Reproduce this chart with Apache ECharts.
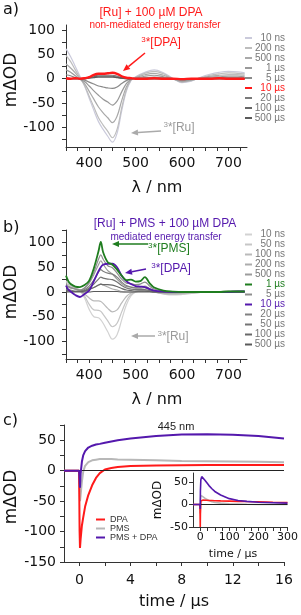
<!DOCTYPE html>
<html><head><meta charset="utf-8">
<script src="https://cdn.jsdelivr.net/npm/echarts@6/dist/echarts.min.js"></script>
<style>html,body{margin:0;padding:0;background:#fff}#c{width:301px;height:615px}</style>
</head><body><div id="c"></div>
<script>
// ---------- Panel a: [Ru] + 100 uM DPA ----------
const W_A = [350,360,370,380,390,400,410,420,430,440,450,460,470,480,490,500,520,540,560,580,600,620,640,660,680,700,720,735];
const A_10ns  = [61,45,25,5,-15,-40,-65,-88,-104,-118,-130,-112,-66,-26,-4,4,13,18,12,1,-8,-5,3,9,13,15,14,12];
const A_200ns = [48,35,18,2,-14,-36,-58,-80,-95,-108,-121,-104,-60,-23,-3,3,11,15,10,0,-7,-4,2,7,10,12,11,10];
const A_500ns = [30,22,12,0,-10,-26,-42,-58,-70,-80,-90,-77,-45,-17,-2,2,8,11,7,0,-6,-3,1,5,7,8,8,7];
const A_1us   = [18,13,6,-1,-6,-15,-25,-34,-42,-48,-54,-46,-27,-10,-1,1,5,7,4,0,-4,-2,1,3,4,5,5,4];
const A_5us   = [8,6,2,-1,-3,-7,-11,-15,-17,-19,-20,-17,-10,-4,0,1,2,3,2,0,-3,-1,0,1,2,2,2,2];
const A_10us  = [1,0,1,0,1,3,8,10,10,11,12,10,5,2,1,0,0,1,0,0,-1,0,0,0,1,0,0,0];
const A_20us  = [0,0,0,0,1,3,6,7,7,7,7,5,2,1,0,0,0,0,0,0,-1,0,0,0,0,0,0,0];
const A_100us = [0,0,0,0,0,2,4,5,5,5,5,3,1,0,0,0,0,0,0,0,-1,0,0,0,0,0,0,0];
const A_500us = [0,0,0,0,0,1,2,3,3,3,3,2,1,0,0,0,0,0,0,0,0,0,0,0,0,0,0,0];

// ---------- Panel b: [Ru] + PMS + 100 uM DPA ----------
const W_B = [350,355,360,370,380,390,400,410,420,425,430,440,450,460,470,480,490,500,510,520,530,540,560,580,600,620,640,660,680,700,720,735];
const B_10ns  = [22,20,17,10,3,-12,-35,-50,-52,-56,-63,-80,-95,-86,-56,-26,-8,0,2,3,2,0,-4,-6,-5,-3,-1,0,1,2,3,2];
const B_50ns  = [20,18,15,9,3,-8,-25,-36,-37,-39,-45,-58,-70,-63,-40,-18,-5,0,2,3,2,0,-4,-5,-4,-2,-1,0,1,2,2,2];
const B_100ns = [17,15,13,8,3,-4,-12,-18,-18,-19,-23,-33,-40,-36,-22,-9,-2,1,2,3,2,0,-3,-4,-3,-2,-1,0,1,1,2,2];
const B_200ns = [14,12,10,6,3,2,5,9,14,16,14,10,6,4,1,0,0,1,2,2,1,0,-2,-3,-2,-1,0,0,1,1,1,1];
const B_500ns = [12,10,8,6,4,8,18,35,55,63,56,43,36,26,17,11,10,9,10,12,7,3,1,0,0,0,0,0,0,1,1,1];
const B_1us   = [33,22,16,11,10,14,23,48,82,101,80,60,55,45,33,24,25,21,22,30,18,9,3,1,0,0,0,0,0,1,1,1];
const B_5us   = [13,11,9,6,4,8,20,40,66,75,66,53,49,38,26,18,17,15,16,20,12,6,2,0,0,0,0,0,0,1,1,1];
const B_10us  = [13,5,1,-6,-10,-4,3,22,42,50,55,57,57,50,33,22,16,12,11,10,6,3,1,0,0,0,0,0,0,0,1,1];
const B_20us  = [6,5,4,2,2,5,12,24,40,45,42,38,36,30,20,13,10,8,8,9,5,2,1,0,0,0,0,0,0,0,0,0];
const B_50us  = [4,3,2,1,1,3,8,16,26,30,28,26,25,20,13,8,6,5,5,5,3,1,0,0,0,0,0,0,0,0,0,0];
const B_100us = [2,2,1,1,1,2,5,9,14,16,15,15,14,11,7,4,3,2,2,2,1,0,0,0,0,0,0,0,0,0,0,0];
const B_500us = [0,0,0,0,0,0,0,1,1,1,1,1,1,1,0,0,0,0,0,0,0,0,0,0,0,0,0,0,0,0,0,0];

// ---------- Panel c: kinetics at 445 nm ----------
const T_C      = [-1.2,-0.5,-0.02,0.02,0.05,0.1,0.2,0.3,0.45,0.7,1.0,1.3,1.6,2.0,2.5,3,4,5,6,8,10,12,14,16];
const C_DPA    = [0,0,0,-100,-127,-112,-90,-77,-59,-40,-24,-12,-4,2,4.5,6,7.5,8,8.5,9,9.2,9.4,9.5,9.5];
const C_PMS    = [0,0,0,-35,-50,-40,-18,-2,8,14,17,18,19,19,19,18.5,18,17.5,17,16,15.5,15,14.5,14];
const C_PMSDPA = [0,0,0,-15,-28,-5,15,25,32,38,41,43,44,46,48,50,53,55,57,59.5,60,59,57,53];
// inset (long time scale)
const T_I      = [-25,-1,0,0.5,2,5,10,16,20,30,40,50,70,100,130,160,200,250,300];
const I_DPA    = [0,0,-50,-20,8,10,10,9.5,9.5,9,9,8.5,8,7.5,7,6.5,6,5,4.5];
const I_PMS    = [0,0,-20,10,20,20,17,14,12,9,6,4.5,3,1.5,1,0.5,0,0,0];
const I_PMSDPA = [0,0,-10,30,55,62,60,54,50,42,35,29,21,13,9,7,5,4,3];

// tick / label values
const SPEC_X_LABELS = [400,500,600,700];
const SPEC_X_TICKS = [350,375,400,425,450,475,500,525,550,575,600,625,650,675,700,725];
const SPEC_Y_LABELS = [-100,-50,0,50,100];
const SPEC_YA_TICKS = [-125,-100,-75,-50,-25,0,25,50,75,100];
const SPEC_YB_TICKS = [-125,-100,-75,-50,-25,0,25,50,75,100,125];
const C_X_LABELS = [0,4,8,12,16];
const C_X_TICKS = [0,2,4,6,8,10,12,14,16];
const C_Y_LABELS = [-150,-100,-50,0,50];
const C_Y_TICKS = [-150,-125,-100,-75,-50,-25,0,25,50,75];
const I_X_LABELS = [0,100,200,300];
const I_X_TICKS = [0,25,50,75,100,125,150,175,200,225,250,275,300];
const I_Y_LABELS = [-50,0,50];
const I_Y_TICKS = [-50,-25,0,25,50];

const RED = '#ff1a1a', GREEN = '#1f7d1f', PURPLE = '#5418ad';
const AX = 'DejaVu Sans', TX = 'Liberation Sans';

const pairs = (xs, ys) => xs.map((x, i) => [x, ys[i]]);

function xAx(g, min, max, labels, ticks, margin, fs) {
  return {type:'value', gridIndex:g, min, max,
    axisLine:{show:true, onZero:false, lineStyle:{color:'#333', width:1}},
    axisTick:{show:true, customValues:ticks, length:4, lineStyle:{color:'#333'}},
    axisLabel:{customValues:labels, margin, fontSize:fs, fontFamily:AX, color:'#111'},
    splitLine:{show:false}};
}
function yAx(g, min, max, labels, ticks, margin, fs) {
  return {type:'value', gridIndex:g, min, max,
    axisLine:{show:true, onZero:false, lineStyle:{color:'#333', width:1}},
    axisTick:{show:true, customValues:ticks, length:4, lineStyle:{color:'#333'}},
    axisLabel:{customValues:labels, margin, fontSize:fs, fontFamily:AX, color:'#111'},
    splitLine:{show:false}};
}

const series = [];
function addLine(name, axis, xs, ys, color, width, smooth, z) {
  series.push({name, type:'line', xAxisIndex:axis, yAxisIndex:axis, data:pairs(xs, ys),
    showSymbol:false, symbol:'none', smooth: smooth, color,
    itemStyle:{color}, lineStyle:{color, width}, z: z || 2, animation:false, silent:true});
}

// panel a
const A_SER = [
  ['a10 ns', A_10ns, '#cacadb'], ['a200 ns', A_200ns, '#bdbdbd'], ['a500 ns', A_500ns, '#a9a9a9'],
  ['a1 µs', A_1us, '#999999'], ['a5 µs', A_5us, '#8a8a8a'], ['a20 µs', A_20us, '#7a7a7a'],
  ['a100 µs', A_100us, '#666666'], ['a500 µs', A_500us, '#5a5a5a']];
A_SER.forEach(s => addLine(s[0], 0, W_A, s[1], s[2], 1.2, 0.35, 2));
addLine('a10 µs', 0, W_A, A_10us, RED, 2.4, 0.35, 5);
const A_LEG = ['a10 ns','a200 ns','a500 ns','a1 µs','a5 µs','a10 µs','a20 µs','a100 µs','a500 µs'];

// panel b
const B_SER = [
  ['b10 ns', B_10ns, '#d2d2d2'], ['b50 ns', B_50ns, '#c6c6c6'], ['b100 ns', B_100ns, '#bababa'],
  ['b200 ns', B_200ns, '#acacac'], ['b500 ns', B_500ns, '#9c9c9c'], ['b5 µs', B_5us, '#8e8e8e'],
  ['b20 µs', B_20us, '#808080'], ['b50 µs', B_50us, '#747474'], ['b100 µs', B_100us, '#686868'],
  ['b500 µs', B_500us, '#5a5a5a']];
B_SER.forEach(s => addLine(s[0], 1, W_B, s[1], s[2], 1.2, 0.35, 2));
addLine('b10 µs', 1, W_B, B_10us, PURPLE, 1.8, 0.35, 5);
addLine('b1 µs', 1, W_B, B_1us, GREEN, 1.8, 0.35, 6);
const B_LEG = ['b10 ns','b50 ns','b100 ns','b200 ns','b500 ns','b1 µs','b5 µs','b10 µs','b20 µs','b50 µs','b100 µs','b500 µs'];

// panel c
addLine('PMS', 2, T_C, C_PMS, '#b8b8b8', 2, false, 3);
addLine('DPA', 2, T_C, C_DPA, RED, 2, false, 4);
addLine('PMS + DPA', 2, T_C, C_PMSDPA, PURPLE, 2, false, 5);
series[series.length-3].markLine = {silent:true, symbol:'none', label:{show:false},
  lineStyle:{color:'#222', width:1, type:'solid'}, data:[{yAxis:0}], animation:false};
// inset
addLine('iPMS', 3, T_I, I_PMS, '#b8b8b8', 1.6, false, 3);
addLine('iDPA', 3, T_I, I_DPA, RED, 1.6, false, 4);
addLine('iPMSDPA', 3, T_I, I_PMSDPA, PURPLE, 1.6, false, 5);
series[series.length-3].markLine = {silent:true, symbol:'none', label:{show:false},
  lineStyle:{color:'#222', width:1, type:'solid'}, data:[{yAxis:0}], animation:false};

const legendFmt = name => '{r|' + name.slice(1) + '}';
function specLegend(names, top, special) {
  return {data: names.map(n => special[n] ? {name:n, textStyle:{color:special[n]}} : {name:n}),
    orient:'vertical', left:245, top, itemWidth:7, itemHeight:2, itemGap:0, icon:'rect',
    padding:0, selectedMode:false, formatter: legendFmt,
    textStyle:{fontFamily:TX, fontSize:10, color:'#777',
      rich:{r:{width:28, align:'right', lineHeight:11, fontSize:10, fontFamily:TX}}}};
}

function arrow(x1, y1, x2, y2, color, w) {
  const a = Math.atan2(y2 - y1, x2 - x1), L = 7, H = 3;
  const bx = x2 - L * Math.cos(a), by = y2 - L * Math.sin(a);
  return {type:'group', silent:true, children:[
    {type:'line', shape:{x1, y1, x2:bx, y2:by}, style:{stroke:color, lineWidth:w}},
    {type:'polygon', shape:{points:[[x2, y2], [bx + H * Math.sin(a), by - H * Math.cos(a)], [bx - H * Math.sin(a), by + H * Math.cos(a)]]}, style:{fill:color}}]};
}
function txt(x, y, text, size, color, family, align, extra) {
  return Object.assign({type:'text', x, y, silent:true,
    style:{text, fontSize:size, fontFamily:family, fill:color, align:align || 'center', verticalAlign:'middle'}}, extra || {});
}
function sup(x, y, label, color) {
  return {type:'text', x, y, silent:true, style:{text:'{s|3}{n|*' + label + '}', fill:color, align:'center', verticalAlign:'middle',
    fontFamily:TX, rich:{s:{fontSize:8, verticalAlign:'top', lineHeight:14, fontFamily:TX}, n:{fontSize:12, lineHeight:14, fontFamily:TX}}}};
}
const rot = {rotation: Math.PI / 2};

const option = {
  animation:false,
  grid:[
    {left:66, top:25, width:181, height:122},
    {left:66, top:230, width:181, height:129},
    {left:64, top:425, width:220, height:137},
    {left:193, top:473, width:97, height:54}],
  xAxis:[
    xAx(0, 350, 740, SPEC_X_LABELS, SPEC_X_TICKS, 9, 14),
    xAx(1, 350, 740, SPEC_X_LABELS, SPEC_X_TICKS, 9, 14),
    xAx(2, -1.2, 16, C_X_LABELS, C_X_TICKS, 11, 14),
    xAx(3, -25, 300, I_X_LABELS, I_X_TICKS, 5, 11)],
  yAxis:[
    yAx(0, -140, 110, SPEC_Y_LABELS, SPEC_YA_TICKS, 11, 14),
    yAx(1, -135, 125, SPEC_Y_LABELS, SPEC_YB_TICKS, 11, 14),
    yAx(2, -150, 75, C_Y_LABELS, C_Y_TICKS, 8, 14),
    yAx(3, -50, 70, I_Y_LABELS, I_Y_TICKS, 5, 11)],
  legend:[
    specLegend(A_LEG, 33, {'a10 µs': RED}),
    specLegend(B_LEG, 229.5, {'b1 µs': GREEN, 'b10 µs': PURPLE}),
    {data:['DPA','PMS','PMS + DPA'], orient:'vertical', left:96, top:515, itemWidth:9, itemHeight:2, itemGap:0,
      icon:'rect', padding:0, selectedMode:false, formatter: n => '{r|' + n + '}',
      textStyle:{fontFamily:TX, fontSize:9, color:'#333', rich:{r:{lineHeight:14, fontSize:9, fontFamily:TX}}}}],
  graphic:[
    txt(3, 10, 'a)', 16, '#111', AX, 'left'),
    txt(3, 228, 'b)', 16, '#111', AX, 'left'),
    txt(3, 421, 'c)', 16, '#111', AX, 'left'),
    txt(151, 13, '[Ru] + 100 µM DPA', 12, RED, TX),
    txt(155, 25, 'non-mediated energy transfer', 10, RED, TX),
    sup(161, 43, '[DPA]', RED),
    arrow(145, 53, 123, 71, RED, 1.5),
    sup(179, 128, '[Ru]', '#9a9a9a'),
    arrow(161, 131, 131, 133, '#aaaaaa', 1.5),
    txt(165, 224, '[Ru] + PMS + 100 µM DPA', 12, PURPLE, TX),
    txt(166, 237, 'mediated energy transfer', 10, PURPLE, TX),
    sup(169, 249, '[PMS]', GREEN),
    arrow(148, 244, 112, 244, GREEN, 1.5),
    sup(171, 269, '[DPA]', PURPLE),
    arrow(146, 269, 125, 273, PURPLE, 1.5),
    sup(173, 337, '[Ru]', '#9a9a9a'),
    arrow(155, 336, 131, 336, '#aaaaaa', 1.5),
    txt(176, 427, '445 nm', 11, '#222', TX),
    txt(12, 80, 'mΔOD', 17, '#111', AX, 'center', rot),
    txt(12, 292, 'mΔOD', 17, '#111', AX, 'center', rot),
    txt(12, 497, 'mΔOD', 17, '#111', AX, 'center', rot),
    txt(158, 500, 'mΔOD', 12, '#111', AX, 'center', rot),
    txt(157, 188, 'λ / nm', 16, '#111', AX),
    txt(157, 400, 'λ / nm', 16, '#111', AX),
    txt(174, 602, 'time / µs', 16, '#111', AX),
    txt(233, 554, 'time / µs', 11, '#111', AX)],
  series
};
const chart = echarts.init(document.getElementById('c'), null, {renderer:'canvas'});
chart.setOption(option);
</script></body></html>
